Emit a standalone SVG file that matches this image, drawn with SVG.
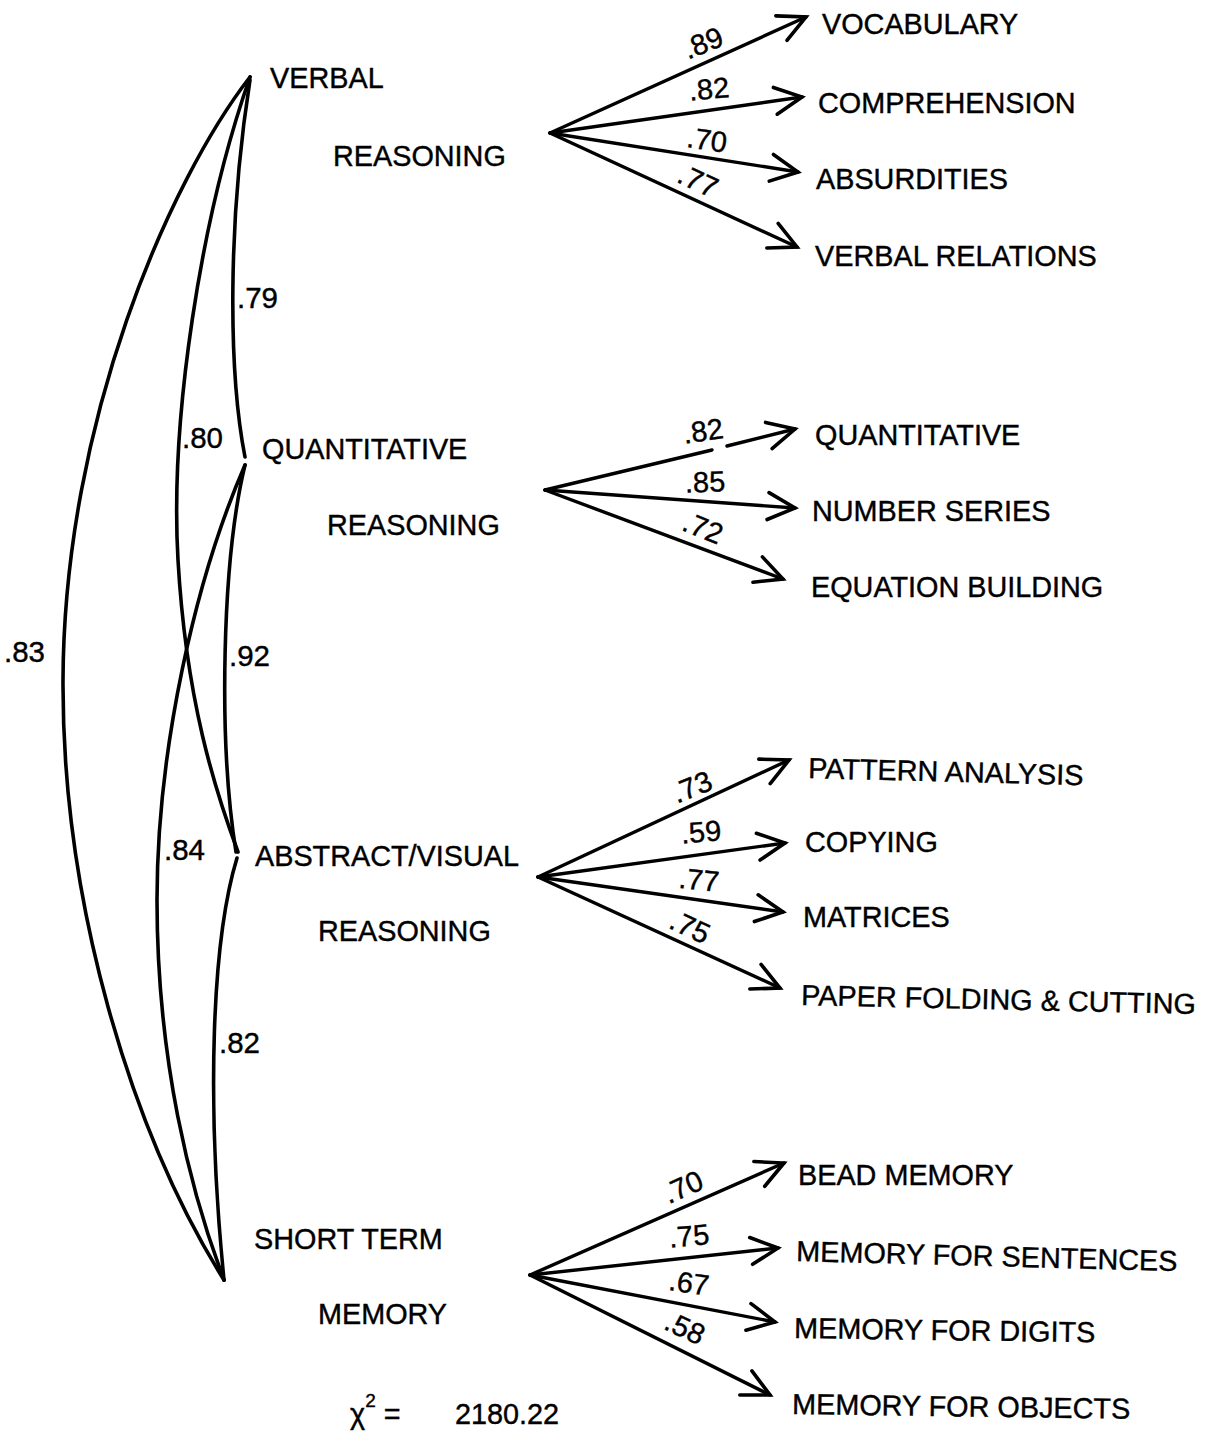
<svg xmlns="http://www.w3.org/2000/svg" width="1215" height="1432" viewBox="0 0 1215 1432">
<style>
  text { font-family: "Liberation Sans", Arial, sans-serif; fill: #000; stroke: #000; stroke-width: 0.4; }
  .lbl { font-size: 28.8px; }
  .w { font-size: 29px; text-anchor: middle; }
  .wl { font-size: 29.5px; }
  .c { fill: none; stroke: #000; stroke-width: 3.6; stroke-linecap: round; }
  .a { fill: none; stroke: #000; stroke-width: 3.4; stroke-linecap: round; }
</style>
<defs>
  <marker id="arr" markerUnits="userSpaceOnUse" markerWidth="40" markerHeight="40" viewBox="-32 -20 40 40" refX="0" refY="0" orient="auto">
    <path d="M-27,-13.5 L0,0 L-27,13.5" fill="none" stroke="#000" stroke-width="3.6" stroke-linecap="round" stroke-linejoin="miter"/>
  </marker>
</defs>
<rect width="1215" height="1432" fill="#fff"/>

<g id="connectors">
  <!-- correlations between factors -->
  <path class="c" d="M250,77 C170,180 64,420 63,680 C62,900 130,1130 224,1280"/>
  <path class="c" d="M250,77 C200,220 170,420 178,560 C186,700 215,790 238,852"/>
  <path class="c" d="M250,80 C228,220 228,370 245,457"/>
  <path class="c" d="M245,465 C222,560 218,740 236,852"/>
  <path class="c" d="M245,465 C195,580 157,750 157,900 C157,1060 190,1190 224,1280"/>
  <path class="c" d="M237,858 C212,940 206,1100 224,1280"/>

  <!-- verbal fan -->
  <line class="a" x1="550" y1="133" x2="806" y2="17" marker-end="url(#arr)"/>
  <line class="a" x1="550" y1="133" x2="802" y2="97" marker-end="url(#arr)"/>
  <line class="a" x1="550" y1="133" x2="798" y2="172" marker-end="url(#arr)"/>
  <line class="a" x1="550" y1="133" x2="797" y2="247" marker-end="url(#arr)"/>

  <!-- quantitative fan -->
  <line class="a" x1="545" y1="490" x2="712" y2="450"/>
  <line class="a" x1="727" y1="446" x2="795" y2="429" marker-end="url(#arr)"/>
  <line class="a" x1="545" y1="490" x2="795" y2="508" marker-end="url(#arr)"/>
  <line class="a" x1="545" y1="490" x2="783" y2="579" marker-end="url(#arr)"/>

  <!-- abstract fan -->
  <line class="a" x1="538" y1="877" x2="789" y2="760" marker-end="url(#arr)"/>
  <line class="a" x1="538" y1="877" x2="785" y2="843" marker-end="url(#arr)"/>
  <line class="a" x1="538" y1="877" x2="783" y2="912" marker-end="url(#arr)"/>
  <line class="a" x1="538" y1="877" x2="780" y2="988" marker-end="url(#arr)"/>

  <!-- memory fan -->
  <line class="a" x1="530" y1="1275" x2="784" y2="1163" marker-end="url(#arr)"/>
  <line class="a" x1="530" y1="1275" x2="778" y2="1248" marker-end="url(#arr)"/>
  <line class="a" x1="530" y1="1275" x2="775" y2="1322" marker-end="url(#arr)"/>
  <line class="a" x1="530" y1="1275" x2="770" y2="1395" marker-end="url(#arr)"/>

  <!-- loadings -->
  <text class="w" transform="translate(703,43) rotate(-22)" y="10">.89</text>
  <text class="w" transform="translate(709,89) rotate(-5)" y="10">.82</text>
  <text class="w" transform="translate(707,140) rotate(8)" y="10">.70</text>
  <text class="w" transform="translate(698,181) rotate(25)" y="10">.77</text>

  <text class="w" transform="translate(703,431) rotate(-8)" y="10">.82</text>
  <text class="w" transform="translate(705,482) rotate(-2)" y="10">.85</text>
  <text class="w" transform="translate(703,528) rotate(22)" y="10">.72</text>

  <text class="w" transform="translate(692,787) rotate(-22)" y="10">.73</text>
  <text class="w" transform="translate(701,832) rotate(-5)" y="10">.59</text>
  <text class="w" transform="translate(699,880) rotate(6)" y="10">.77</text>
  <text class="w" transform="translate(690,927) rotate(25)" y="10">.75</text>

  <text class="w" transform="translate(683,1187) rotate(-24)" y="10">.70</text>
  <text class="w" transform="translate(689,1236) rotate(-5)" y="10">.75</text>
  <text class="w" transform="translate(689,1283) rotate(8)" y="10">.67</text>
  <text class="w" transform="translate(685,1328) rotate(25)" y="10">.58</text>

  <!-- correlations -->
  <text class="wl" x="237" y="308">.79</text>
  <text class="wl" x="182" y="448">.80</text>
  <text class="wl" x="4" y="662">.83</text>
  <text class="wl" x="229" y="666">.92</text>
  <text class="wl" x="164" y="860">.84</text>
  <text class="wl" x="219" y="1053">.82</text>
</g>

<g id="verbal-reasoning">
  <text class="lbl" x="270" y="88">VERBAL</text>
  <text class="lbl" x="333" y="166">REASONING</text>
</g>
<g id="quantitative-reasoning">
  <text class="lbl" x="262" y="459">QUANTITATIVE</text>
  <text class="lbl" x="327" y="535">REASONING</text>
</g>
<g id="abstract-visual-reasoning">
  <text class="lbl" x="255" y="866">ABSTRACT/VISUAL</text>
  <text class="lbl" x="318" y="941">REASONING</text>
</g>
<g id="short-term-memory">
  <text class="lbl" x="254" y="1249">SHORT TERM</text>
  <text class="lbl" x="318" y="1324">MEMORY</text>
</g>

<g id="vocabulary"><text class="lbl" x="822" y="34">VOCABULARY</text></g>
<g id="comprehension"><text class="lbl" x="818" y="113">COMPREHENSION</text></g>
<g id="absurdities"><text class="lbl" x="816" y="189">ABSURDITIES</text></g>
<g id="verbal-relations"><text class="lbl" x="815" y="266">VERBAL RELATIONS</text></g>

<g id="quantitative"><text class="lbl" x="815" y="445">QUANTITATIVE</text></g>
<g id="number-series"><text class="lbl" x="812" y="521">NUMBER SERIES</text></g>
<g id="equation-building"><text class="lbl" x="811" y="597">EQUATION BUILDING</text></g>

<g id="pattern-analysis"><text class="lbl" transform="rotate(1.5 808 778)" x="808" y="778">PATTERN ANALYSIS</text></g>
<g id="copying"><text class="lbl" x="805" y="852">COPYING</text></g>
<g id="matrices"><text class="lbl" x="803" y="927">MATRICES</text></g>
<g id="paper-folding"><text class="lbl" transform="rotate(1.3 801 1005)" x="801" y="1005">PAPER FOLDING &amp; CUTTING</text></g>

<g id="bead-memory"><text class="lbl" x="798" y="1185">BEAD MEMORY</text></g>
<g id="memory-sentences"><text class="lbl" transform="rotate(1.5 796 1261)" x="796" y="1261">MEMORY FOR SENTENCES</text></g>
<g id="memory-digits"><text class="lbl" transform="rotate(0.8 794 1338)" x="794" y="1338">MEMORY FOR DIGITS</text></g>
<g id="memory-objects"><text class="lbl" transform="rotate(0.8 792 1414)" x="792" y="1414">MEMORY FOR OBJECTS</text></g>

<g id="chi-square">
  <text class="lbl" x="350" y="1424">χ<tspan font-size="19" dy="-17">2</tspan><tspan dy="17"> = </tspan></text>
  <text class="lbl" x="455" y="1424" font-size="31">2180.22</text>
</g>
</svg>
